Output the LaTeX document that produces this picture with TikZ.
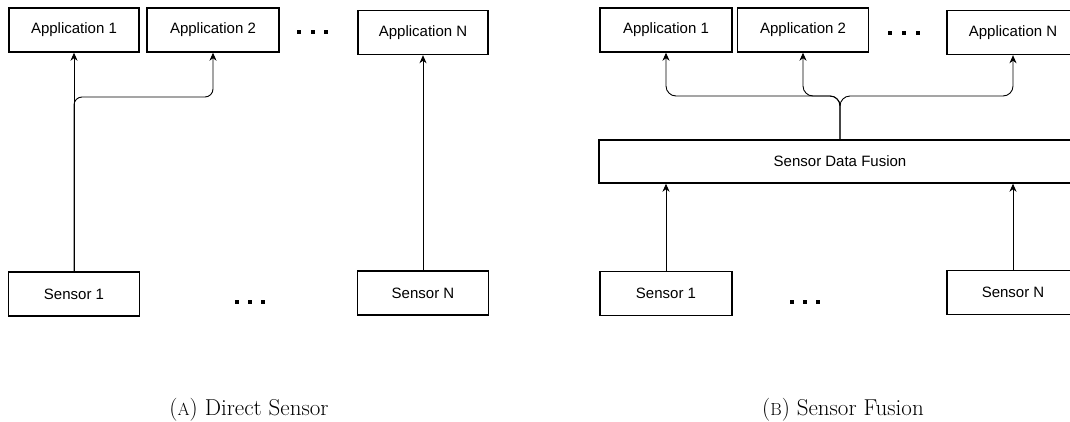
\documentclass[tikz,border=0pt]{standalone}
\usepackage{fontspec}
\newfontfamily\arial{Liberation Sans}
\usetikzlibrary{arrows.meta}
\begin{document}
\begin{tikzpicture}[x=1pt,y=-1pt,
  box/.style={draw,line width=1.4pt,minimum height=44pt,inner sep=0pt,font=\arial\fontsize{15}{17}\selectfont},
  arr/.style={line width=0.9pt,-{Stealth[length=8pt,width=7pt,inset=2.5pt]}},
  sq/.style={fill,minimum size=4pt,inner sep=0pt},
  captxt/.style={font=\fontsize{23}{26}\selectfont,anchor=base,inner sep=0pt}]
\useasboundingbox (0,0) rectangle (1070,421);
\begin{scope}
\clip (0,0) rectangle (1070,421);
% ---------- left panel ----------
\node[box,minimum width=130pt] (app1L) at (74,30) {Application 1};
\node[box,minimum width=132pt] (app2L) at (213,30) {Application 2};
\node[box,minimum width=130pt] (appNL) at (423,32.5) {Application N};
\node[box,minimum width=131pt] (sen1L) at (74,294) {Sensor 1};
\node[box,minimum width=131pt] (senNL) at (423,293) {Sensor N};
\foreach \i/\x in {1/299,2/312.5,3/326} \node[sq] (dAL\i) at (\x,32) {};
\foreach \i/\x in {1/237,2/250,3/263} \node[sq] (dBL\i) at (\x,302) {};
\coordinate (bL) at (app2L.south |- 0,97);
\draw[arr] (sen1L.north) -- (app1L.south);
\draw[arr,rounded corners=8pt] (sen1L.north) |- (bL) -- (app2L.south);
\draw[arr] (senNL.north) -- (appNL.south);
% ---------- right panel ----------
\node[box,minimum width=132pt] (app1R) at (666,30) {Application 1};
\node[box,minimum width=131pt] (app2R) at (803,30) {Application 2};
\node[box,minimum width=132pt] (appNR) at (1013,32.5) {Application N};
\node[box,minimum width=482pt,minimum height=43pt] (fus) at (840,161.5) {Sensor Data Fusion};
\node[box,minimum width=132pt] (sen1R) at (666,293.5) {Sensor 1};
\node[box,minimum width=132pt] (senNR) at (1013,292.5) {Sensor N};
\foreach \i/\x in {1/890,2/904,3/918} \node[sq] (dAR\i) at (\x,33) {};
\foreach \i/\x in {1/792,2/805,3/818} \node[sq] (dBR\i) at (\x,302) {};
\coordinate (jR) at (fus.north |- 0,96);
\draw[arr,rounded corners=10pt] (fus.north) -- (jR) -| (app1R.south);
\draw[arr,rounded corners=10pt] (fus.north) -- (jR) -| (app2R.south);
\draw[arr,rounded corners=10pt] (fus.north) -- (jR) -| (appNR.south);
\draw[arr] (sen1R.north) -- (sen1R.north |- fus.south);
\draw[arr] (senNR.north) -- (senNR.north |- fus.south);
\end{scope}
% ---------- captions ----------
\node[captxt] (capA) at (249,415) {({\fontsize{17.5}{20}\selectfont A}) Direct Sensor};
\node[captxt] (capB) at (843,415) {({\fontsize{17.5}{20}\selectfont B}) Sensor Fusion};
\end{tikzpicture}
\end{document}
